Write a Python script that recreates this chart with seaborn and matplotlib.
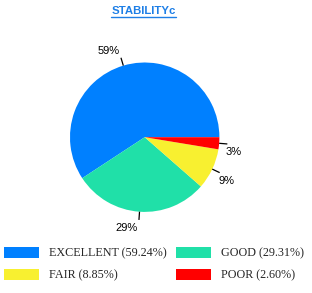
import numpy as np
import matplotlib
matplotlib.use("Agg")
import matplotlib.pyplot as plt
import seaborn as sns
from matplotlib.patches import Patch
from matplotlib.lines import Line2D

categories = ["EXCELLENT", "GOOD", "FAIR", "POOR"]
values = [59.24, 29.31, 8.85, 2.60]
colors = ["#0080FF", "#20E0A8", "#F8F030", "#FF0000"]
title = "STABILITYc"

sns.set_theme(style="white")
plt.rcParams["font.family"] = ["Liberation Sans", "DejaVu Sans"]

W, H = 312, 293
fig = plt.figure(figsize=(W / 100, H / 100), dpi=100)
fig.patch.set_facecolor("white")

cx, cy, r = 144.7, 137.2, 74.7
ax = fig.add_axes([(cx - r) / W, (H - cy - r) / H, 2 * r / W, 2 * r / H])
wedges, _ = ax.pie(values, colors=colors, startangle=0, counterclock=True,
                   radius=1.0, wedgeprops=dict(linewidth=0, edgecolor="none"))
ax.set_xlim(-1, 1)
ax.set_ylim(-1, 1)
ax.set_aspect("equal")
ax.axis("off")

px = 1.0 / r  # one pixel in data units
for w, v in zip(wedges, values):
    theta = np.deg2rad((w.theta1 + w.theta2) / 2)
    c, s = np.cos(theta), np.sin(theta)
    x0, y0 = 1.0 * c, 1.0 * s
    x1, y1 = 1.11 * c, 1.11 * s
    ax.plot([x0, x1], [y0, y1], color="black", lw=0.9, clip_on=False,
            solid_capstyle="butt")
    ha = "left" if c > 0 else "right"
    va = "bottom" if s > 0 else "top"
    dy = 2 * px if s > 0 else -3 * px
    dx = -1.5 * px
    ax.text(x1 + dx, y1 + dy, f"{round(v):.0f}%", ha=ha, va=va,
            fontsize=8, color="black", clip_on=False)

# title with underline
t = fig.text(143.5 / W, 1 - 11 / H, title, ha="center", va="center",
             fontsize=8.2, fontweight="bold", color="#1E7FE6")
fig.canvas.draw()
bb = t.get_window_extent(fig.canvas.get_renderer())
uy = (H - 16.5) / H
fig.add_artist(Line2D([bb.x0 / W, bb.x1 / W], [uy, uy], color="#1E7FE6",
                      lw=1.0, transform=fig.transFigure))

# legend (column-major order to get rows E G / F P)
order = [0, 2, 1, 3]
handles = [Patch(facecolor=colors[i], edgecolor="none") for i in order]
labels = [f"{categories[i]} ({values[i]:.2f}%)" for i in order]
fs = 8.7
fpx = fs * 100 / 72
leg = fig.legend(handles, labels, ncol=2, loc="upper left",
                 bbox_to_anchor=(4 / W, 1 - 247 / H), frameon=False,
                 prop={"family": ["Liberation Serif", "DejaVu Serif"], "size": fs},
                 handlelength=35 / fpx, handleheight=12 / fpx,
                 handletextpad=10 / fpx, columnspacing=9 / fpx,
                 labelspacing=(21.5 - fpx) / fpx, borderpad=0, borderaxespad=0)

fig.savefig("out.png", dpi=100, facecolor="white")
